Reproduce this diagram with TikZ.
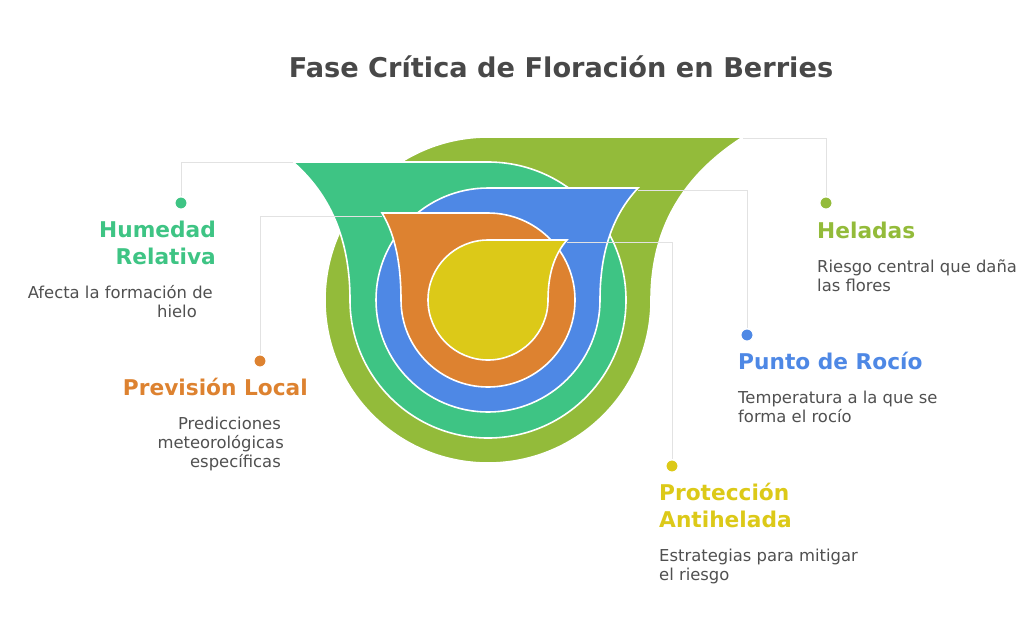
\documentclass[tikz,border=0pt]{standalone}
\usepackage{fontspec}
\setmainfont{DejaVu Sans}
\definecolor{cLime}{HTML}{93BB3A}
\definecolor{cGreen}{HTML}{3EC484}
\definecolor{cBlue}{HTML}{4E88E5}
\definecolor{cOrange}{HTML}{DD8230}
\definecolor{cYellow}{HTML}{DCC918}
\definecolor{cText}{HTML}{505050}
\definecolor{cTitle}{HTML}{484848}
\definecolor{cLead}{HTML}{E2E2E2}
\begin{document}
\begin{tikzpicture}[x=1pt,y=-1pt,
  ring/.style={draw=white,line width=1.6pt},
  lead/.style={draw=cLead,line width=0.9pt},
  dot/.style={circle,minimum size=12.5pt,inner sep=0pt,draw=white,line width=1.4pt,fill=#1},
  lbl/.style={inner sep=0pt,font=\fontsize{21.7}{26}\selectfont\bfseries,text=#1},
  body/.style={inner sep=0pt,font=\fontsize{16.4}{19}\selectfont,text=cText}]
\useasboundingbox (0,0) rectangle (1024,638);
% title
\node[inner sep=0pt,anchor=base,font=\fontsize{27.2}{32}\selectfont\bfseries,text=cTitle] (title) at (561,77) {Fase Crítica de Floración en Berries};
% shapes
\fill[cLime,ring] (488,137) -- (743,137) .. controls (692.4,169.6) and (651,218.5) .. (651,300) arc[start angle=0,end angle=270,radius=163] -- cycle;
\fill[cGreen,ring] (488,162) -- (293,162) .. controls (324.4,189.6) and (350,231) .. (350,300) arc[start angle=180,end angle=-90,radius=138] -- cycle;
\fill[cBlue,ring] (488,188) -- (638,188) .. controls (617.1,210.4) and (600,244) .. (600,300) arc[start angle=0,end angle=270,radius=112] -- cycle;
\fill[cOrange,ring] (488,213) -- (382,213) .. controls (392.5,230.4) and (401,256.5) .. (401,300) arc[start angle=180,end angle=-90,radius=87] -- cycle;
\fill[cYellow,ring] (488,240) -- (567,240) .. controls (556.5,252) and (548,270) .. (548,300) arc[start angle=0,end angle=270,radius=60] -- cycle;
% corners
\coordinate (kLime) at (743,138);
\coordinate (kGreen) at (293,162);
\coordinate (kBlue) at (638,190);
\coordinate (kOrange) at (382,216);
\coordinate (kYellow) at (567,242);
% dots
\node[dot=cGreen] (dGreen) at (181,203) {};
\node[dot=cOrange] (dOrange) at (260,361) {};
\node[dot=cLime] (dLime) at (826,203) {};
\node[dot=cBlue] (dBlue) at (747,335) {};
\node[dot=cYellow] (dYellow) at (672,466) {};
% leaders
\draw[lead] (kLime) -| (dLime);
\draw[lead] (kGreen) -| (dGreen);
\draw[lead] (kBlue) -| (dBlue);
\draw[lead] (kOrange) -| (dOrange);
\draw[lead] (kYellow) -| (dYellow);
% Humedad Relativa
\node[lbl=cGreen,anchor=base east] (hum1) at (216,237) {Humedad};
\node[lbl=cGreen,anchor=base east] (hum2) at (216,264) {Relativa};
\node[body,anchor=base east] (humd1) at (213,298) {Afecta la formación de};
\node[body,anchor=base east] (humd2) at (197,317) {hielo};
% Prevision Local
\node[lbl=cOrange,anchor=base east] (prev1) at (308,395) {Previsión Local};
\node[body,anchor=base east] (prevd1) at (281,429) {Predicciones};
\node[body,anchor=base east] (prevd2) at (284,448) {meteorológicas};
\node[body,anchor=base east] (prevd3) at (281,467) {específicas};
% Heladas
\node[lbl=cLime,anchor=base west] (hel1) at (817,238) {Heladas};
\node[body,anchor=base west] (held1) at (817,272) {Riesgo central que daña};
\node[body,anchor=base west] (held2) at (817,291) {las flores};
% Punto de Rocio
\node[lbl=cBlue,anchor=base west] (pun1) at (738,369) {Punto de Rocío};
\node[body,anchor=base west] (pund1) at (738,403) {Temperatura a la que se};
\node[body,anchor=base west] (pund2) at (738,422) {forma el rocío};
% Proteccion Antihelada
\node[lbl=cYellow,anchor=base west] (pro1) at (659,500) {Protección};
\node[lbl=cYellow,anchor=base west] (pro2) at (659,527) {Antihelada};
\node[body,anchor=base west] (prod1) at (659,561) {Estrategias para mitigar};
\node[body,anchor=base west] (prod2) at (659,580) {el riesgo};
\end{tikzpicture}
\end{document}
